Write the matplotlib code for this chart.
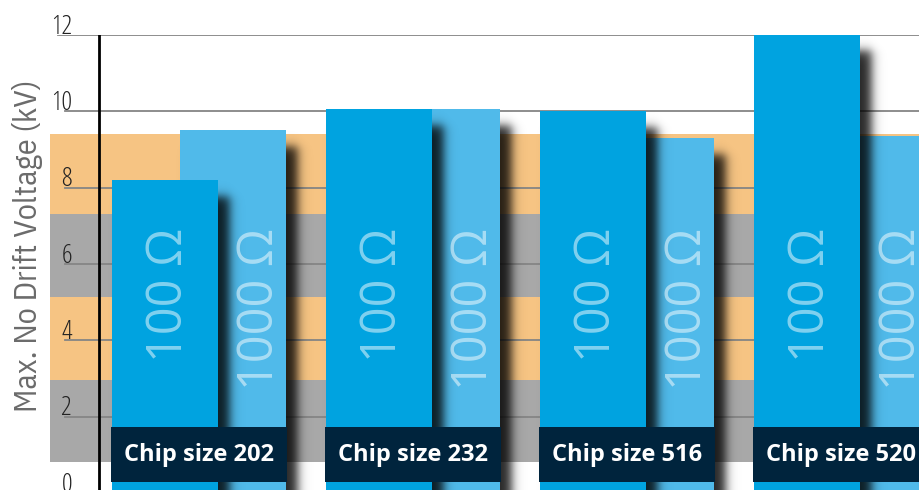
import numpy as np
import matplotlib
matplotlib.use("Agg")
import matplotlib.pyplot as plt

# ---------------- data ----------------
categories = ["Chip size 202", "Chip size 232", "Chip size 516", "Chip size 520"]
r100_values = [8.2, 10.05, 10.0, 12.0]      # 100 Ω
r1000_values = [9.5, 10.05, 9.3, 9.35]      # 1000 Ω
series_labels = ["100 Ω", "1000 Ω"]
y_ticks = [0, 2, 4, 6, 8, 10, 12]
y_label = "Max. No Drift Voltage (kV)"
band_edges = [0.8, 2.97, 5.14, 7.3, 9.4]   # decorative background bands

# ---------------- fonts ----------------
COND = dict(family=["Open Sans", "DejaVu Sans"], fontstretch="condensed", fontweight="light")
PLEX = dict(family=["IBM Plex Sans Condensed", "Open Sans", "DejaVu Sans"], fontweight="normal")
REG = dict(family=["Open Sans", "DejaVu Sans"], fontweight="normal")
BOLD = dict(family=["Open Sans", "DejaVu Sans"], fontweight="bold")

# ---------------- layout ----------------
W, H = 920, 490
fig = plt.figure(figsize=(W / 100, H / 100), dpi=100)
px_left, px_right = 50, 920
py_top, py_zero = 35, 493
ax = fig.add_axes([px_left / W, 1 - py_zero / H, (px_right - px_left) / W, (py_zero - py_top) / H])
ax.axis("off")

group_px = 214.0
yunit = (py_zero - py_top) / 12.0
bar_w = 106 / group_px
light_off = 68 / group_px
first_center_px = 165
xmin = -(first_center_px - px_left) / group_px
xmax = xmin + (px_right - px_left) / group_px

DARK = "#00A3E0"
LIGHT = "#50BAEA"
ORANGE = "#F6C483"
GRAY = "#A8A8A8"
NAVY = "#00243D"

# background bands
for i in range(len(band_edges) - 1):
    ax.axhspan(band_edges[i], band_edges[i + 1], xmin=0, xmax=1,
               color=GRAY if i % 2 == 0 else ORANGE, lw=0, zorder=0)

axw = px_right - px_left
for v in y_ticks:
    start = (8 if v == 12 else 15) / axw
    ax.axhline(v, xmin=start, xmax=1, color="#858585", lw=1.3, zorder=1)
    ax.text(22 / axw, v + 1.5 / yunit, str(v), transform=ax.get_yaxis_transform(),
            ha="right", va="baseline", fontsize=19, color="#222222",
            clip_on=False, zorder=10, **COND)

ax.axvline(xmin + 49 / group_px, ymin=0, ymax=1, color="black", lw=2.0, zorder=2)

fig.text(28 / W, 1 - 246 / H, y_label, rotation=90, ha="center", va="center",
         fontsize=23, color="#6b6b6b", **PLEX)


def shadow(x0, x1, top, z):
    dx = 12 / group_px
    dy = 16 / yunit
    sx = 6 / group_px
    sy = 6 / yunit
    a0, a1 = x0 + dx, x1 + dx
    stop = top - dy
    xa, xb = a0 - 3.5 * sx, a1 + 3.5 * sx
    ya, yb = -0.5, stop + 3.5 * sy
    nx = int((xb - xa) * group_px) + 2
    ny = int((yb - ya) * yunit) + 2
    xs = np.linspace(xa, xb, nx)
    ys = np.linspace(ya, yb, ny)
    fx = 0.5 * (np.tanh((xs - a0) / sx) - np.tanh((xs - a1) / sx))
    fy = 0.5 * (1 - np.tanh((ys - stop) / sy))
    img = np.zeros((ny, nx, 4))
    img[..., 3] = 0.85 * np.outer(fy, fx)
    ax.imshow(img, extent=[xa, xb, ya, yb], origin="lower", aspect="auto",
              interpolation="bilinear", zorder=z)


centers = np.arange(len(categories))
label_top = (py_zero - 228) / yunit
text_size = 35
base_shift = 0.36 * text_size * 100 / 72 / group_px

for i, c in enumerate(centers):
    dl = c - bar_w / 2
    ll = dl + light_off
    # light bar (1000 Ω) behind
    shadow(ll, ll + bar_w, r1000_values[i], 3)
    ax.bar(ll, r1000_values[i], width=bar_w, align="edge", color=LIGHT, lw=0, zorder=4)
    # dark bar (100 Ω)
    shadow(dl, dl + bar_w, r100_values[i], 5)
    ax.bar(dl, r100_values[i], width=bar_w, align="edge", color=DARK, lw=0, zorder=6)
    # texts in bars
    ax.text(c + base_shift, label_top, series_labels[0], rotation=90,
            rotation_mode="anchor", ha="right", va="baseline", fontsize=text_size,
            color="white", alpha=0.5, zorder=7, **REG)
    vis_mid = (dl + bar_w + ll + bar_w) / 2 + 4 / group_px
    ax.text(vis_mid + base_shift, label_top, series_labels[1], rotation=90,
            rotation_mode="anchor", ha="right", va="baseline", fontsize=text_size,
            color="white", alpha=0.5, zorder=7, clip_on=True, **REG)
    # label box
    b0 = (py_zero - 482) / yunit
    b1 = (py_zero - 427) / yunit
    ax.bar(dl - 1 / group_px, b1 - b0, bottom=b0, width=bar_w + light_off + 2 / group_px,
           align="edge", color=NAVY, lw=0, zorder=8)
    ax.text(dl + (bar_w + light_off) / 2, (b0 + b1) / 2, categories[i],
            ha="center", va="center", fontsize=17,
            color="white", zorder=9, clip_on=True, **BOLD)

ax.set_xlim(xmin, xmax)
ax.set_ylim(0, 12)

fig.savefig("out.png", dpi=100)
